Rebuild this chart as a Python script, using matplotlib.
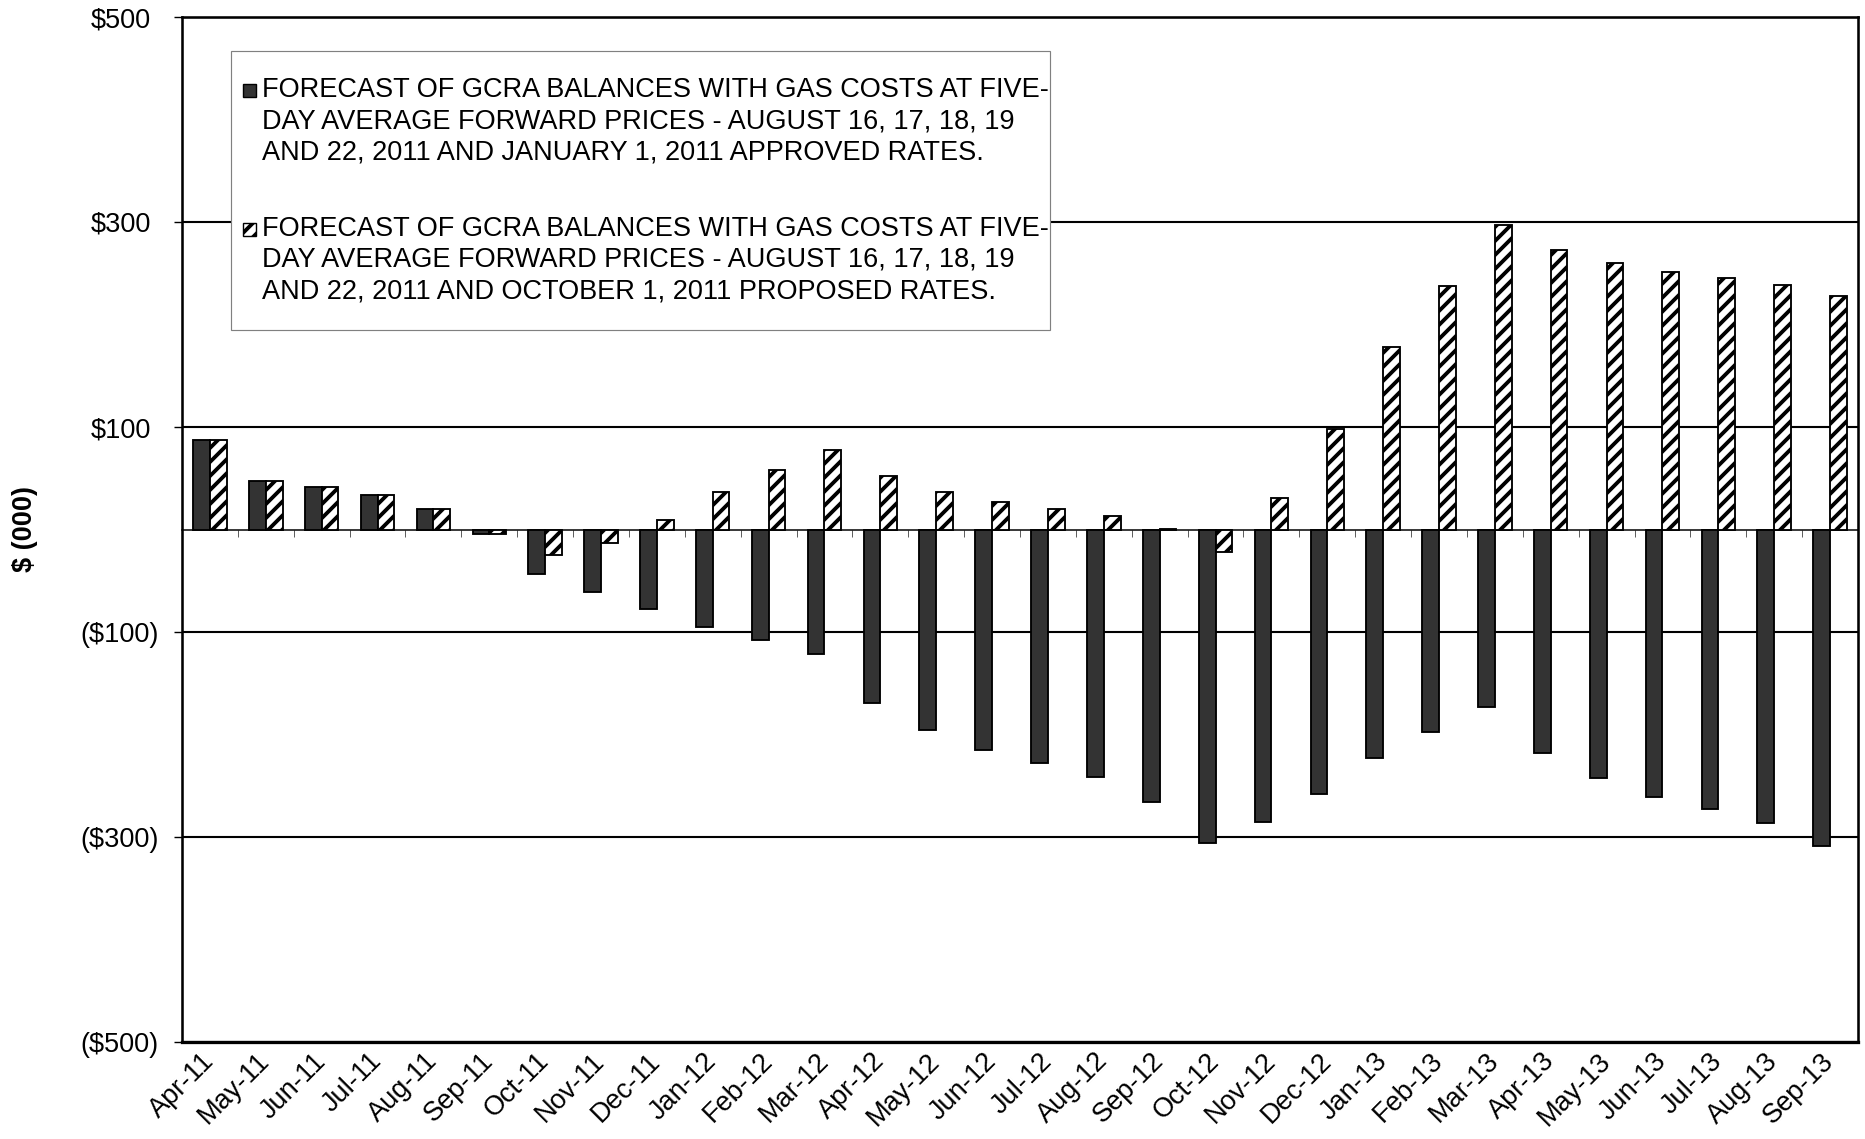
import numpy as np
import matplotlib.pyplot as plt
import matplotlib.transforms as mtransforms
from matplotlib.patches import Patch, Rectangle
from matplotlib.legend_handler import HandlerPatch

# data, $ (000)
months = ["Apr-11", "May-11", "Jun-11", "Jul-11", "Aug-11", "Sep-11", "Oct-11", "Nov-11",
          "Dec-11", "Jan-12", "Feb-12", "Mar-12", "Apr-12", "May-12", "Jun-12", "Jul-12",
          "Aug-12", "Sep-12", "Oct-12", "Nov-12", "Dec-12", "Jan-13", "Feb-13", "Mar-13",
          "Apr-13", "May-13", "Jun-13", "Jul-13", "Aug-13", "Sep-13"]
approved = [87.5, 47.5, 41.5, 33.5, 19.8, -4, -43, -61, -78, -95, -108, -121, -169, -196,
            -215, -228, -241, -266, -306, -285, -258, -223, -198, -173, -218, -242, -261,
            -273, -286, -309]
proposed = [87.5, 47.5, 41.5, 33.5, 19.8, -4, -25, -13, 9, 37, 58, 78, 52, 37, 27, 20, 13,
            0.5, -22, 31, 98, 178, 238, 297, 273, 260, 251, 245, 239, 228]
yticks = [-500, -300, -100, 100, 300, 500]
ytick_labels = ["($500)", "($300)", "($100)", "$100", "$300", "$500"]

label_approved = ("FORECAST OF GCRA BALANCES WITH GAS COSTS AT FIVE-\n"
                  "DAY AVERAGE FORWARD PRICES - AUGUST 16, 17, 18, 19\n"
                  "AND 22, 2011 AND JANUARY 1, 2011 APPROVED RATES.")
label_proposed = ("FORECAST OF GCRA BALANCES WITH GAS COSTS AT FIVE-\n"
                  "DAY AVERAGE FORWARD PRICES - AUGUST 16, 17, 18, 19\n"
                  "AND 22, 2011 AND OCTOBER 1, 2011 PROPOSED RATES.")

# plot setup #
DPI = 84
W, H = 1865, 1139
plt.rcParams['font.family'] = ['Liberation Sans', 'DejaVu Sans']
plt.rcParams['hatch.linewidth'] = 3.3
fs = 23.3
LSP = 1.26

fig = plt.figure(figsize=(W / DPI, H / DPI), dpi=DPI)
ax = fig.add_axes([182 / W, 1 - 1042 / H, (1858 - 182) / W, (1042 - 17) / H])

x = np.arange(len(months))
bw = 0.3
ax.bar(x - bw / 2, approved, bw, color='#333333', edgecolor='black', linewidth=1.6, zorder=3)
ax.bar(x + bw / 2, proposed, bw, color='white', edgecolor='black', hatch='//',
       linewidth=1.6, zorder=3)

ax.set_xlim(-0.5, len(months) - 0.5)
ax.set_ylim(-500, 500)
ax.set_yticks(yticks, ytick_labels)
ax.tick_params(axis='y', labelsize=fs, length=7, width=1.2, direction='out', pad=13)
ax.grid(axis='y', color='black', linewidth=1.8)
ax.set_axisbelow(True)

# positive labels sit one ")" narrower, like the accounting format
off = mtransforms.ScaledTranslation(-7.5 / DPI, 0, fig.dpi_scale_trans)
for lab in ax.get_yticklabels():
    if not lab.get_text().startswith('('):
        lab.set_transform(lab.get_transform() + off)

# zero line with ticks between categories
ax.spines['bottom'].set_position(('data', 0))
ax.spines['bottom'].set_linewidth(1.3)
ax.set_xticks(np.arange(0.5, len(months) - 1, 1))
ax.tick_params(axis='x', labelbottom=False, length=6, width=0.8, direction='out',
               color='#555555')
for s in ['left', 'right', 'top']:
    ax.spines[s].set_linewidth(2.2)

# category labels on the bottom frame
sec = ax.secondary_xaxis('bottom')
sec.set_xticks(x)
sec.set_xticklabels(months, rotation=45, ha='right', va='center', rotation_mode='anchor',
                    fontsize=fs)
sec.tick_params(length=0, pad=13)
sec.spines['bottom'].set_linewidth(2.8)

ax.set_ylabel('$ (000)', fontsize=fs, fontweight='bold', labelpad=36)


# legend square sits beside the first line of each 3-line label
def top_square(legend, orig_handle, xdescent, ydescent, width, height, fontsize):
    sq = 0.48 * fontsize
    y = -ydescent + height / 2 - sq / 2 + 0.905 * LSP * fontsize
    return Rectangle((-xdescent - 0.5 * fontsize, y), sq, sq)


handles = [Patch(facecolor='#333333', edgecolor='black', linewidth=1.2),
           Patch(facecolor='white', edgecolor='black', hatch='//', linewidth=1.2)]
x0 = (231 - 182) / 1676
top = (1042 - 51) / 1025
leg = ax.legend(handles, [label_approved, label_proposed], loc='upper left',
                bbox_to_anchor=(x0, top - 0.3, 819 / 1676, 0.3), mode='expand',
                fontsize=fs, frameon=True, fancybox=False, edgecolor='#808080',
                framealpha=1, handlelength=0.2, handleheight=0.5, handletextpad=0.0,
                labelspacing=1.86, borderpad=0.95, borderaxespad=0,
                handler_map={Patch: HandlerPatch(patch_func=top_square)})
leg.get_frame().set_linewidth(1.0)
for t in leg.get_texts():
    t.set_linespacing(LSP)

plt.savefig('out.png', dpi=DPI)
